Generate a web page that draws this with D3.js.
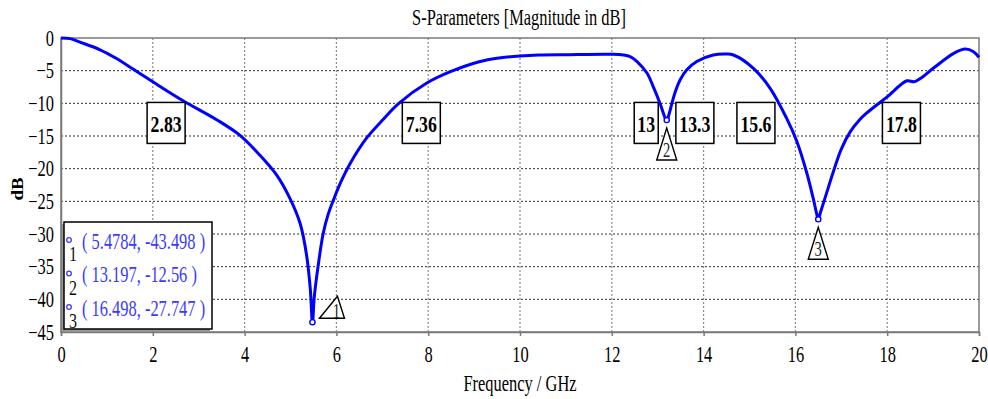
<!DOCTYPE html>
<html>
<head>
<meta charset="utf-8">
<script src="https://cdn.jsdelivr.net/npm/d3@7"></script>
<style>
html,body{margin:0;padding:0;background:#fff;}
svg{display:block;font-family:"Liberation Serif","Times New Roman",serif;}
</style>
</head>
<body>
<svg id="chart" width="988" height="399"></svg>
<script>
// ---- data ----
const freq = [0, 0.2, 0.4, 0.85, 1.2, 1.57, 2.0, 2.66, 3.39, 3.9, 4.34, 4.7, 4.99, 5.21, 5.35, 5.43, 5.4784, 5.52, 5.6, 5.71, 5.82, 5.93, 6.1, 6.3, 6.66, 7.0, 7.36, 7.97, 8.47, 9.13, 9.5, 10, 10.4, 11, 12.0, 12.25, 12.4, 12.55, 12.77, 12.9, 13.05, 13.16, 13.197, 13.25, 13.31, 13.38, 13.49, 13.63, 13.85, 14.21, 14.5, 14.65, 15.08, 15.45, 15.81, 16.03, 16.25, 16.39, 16.46, 16.498, 16.55, 16.65, 16.83, 17.0, 17.2, 17.4, 17.55, 17.8, 18.0, 18.43, 18.58, 18.72, 19.01, 19.45, 19.7, 19.88, 20];
const dB   = [0, -0.1, -0.6, -1.8, -3.1, -4.75, -6.7, -9.6, -12.5, -14.9, -18.0, -21.0, -24.6, -28.4, -33.2, -38.3, -43.498, -39.5, -35.0, -30.0, -27.0, -24.9, -22.0, -19.2, -15.3, -12.6, -10.0, -6.9, -5.2, -3.6, -3.1, -2.75, -2.6, -2.55, -2.5, -2.6, -2.85, -3.6, -5.4, -7.4, -10.0, -12.2, -12.56, -11.6, -10.0, -8.3, -6.4, -4.9, -3.6, -2.6, -2.45, -2.6, -4.6, -7.7, -12.3, -15.8, -20.7, -24.6, -26.8, -27.747, -26.6, -24.4, -20.4, -17.0, -14.3, -12.5, -11.5, -10.1, -9.0, -6.55, -6.7, -6.2, -4.6, -2.35, -1.7, -2.1, -2.95];

const xTicks = [0, 2, 4, 6, 8, 10, 12, 14, 16, 18, 20];
const yTicks = [0, -5, -10, -15, -20, -25, -30, -35, -40, -45];

// -10 dB crossing labels: text, frequency and dB of box centre
const bandLabels = ["2.83", "7.36", "13", "13.3", "15.6", "17.8"];
const bandLabelF = [2.29, 7.85, 12.75, 13.81, 15.14, 18.31];
const bandLabelDB = [-13.0, -13.0, -13.0, -13.0, -13.0, -13.0];

// markers
const markerIds = ["1", "2", "3"];
const markerF = [5.4784, 13.197, 16.498];
const markerDB = [-43.498, -12.56, -27.747];
const markerText = ["( 5.4784, -43.498 )", "( 13.197, -12.56 )", "( 16.498, -27.747 )"];

const titleText = "S-Parameters [Magnitude in dB]";
const xTitle = "Frequency / GHz";
const yTitle = "dB";

// ---- drawing ----
const SX = 0.73; // horizontal squeeze of the reference fonts
const svg = d3.select("#chart");
const x = d3.scaleLinear().domain([0, 20]).range([61, 979]);
const y = d3.scaleLinear().domain([0, -45]).range([38, 332]);

function stext(g, tx, ty, str, opts) {
  opts = opts || {};
  return g.append("text")
    .attr("transform", `translate(${tx},${ty}) scale(${opts.sx || SX},1)`)
    .attr("text-anchor", opts.anchor || "middle")
    .attr("dominant-baseline", "central")
    .attr("font-size", opts.size || 22.5)
    .attr("font-weight", opts.weight || "normal")
    .attr("fill", opts.fill || "#000")
    .text(str);
}

// grid
const grid = svg.append("g");
grid.selectAll("line.v").data(xTicks.slice(1, -1)).join("line")
  .attr("x1", d => x(d)).attr("x2", d => x(d))
  .attr("y1", y(0)).attr("y2", y(-45))
  .attr("stroke", "#8a8a8a").attr("stroke-width", 1.2).attr("stroke-dasharray", "2,2");
grid.selectAll("line.h").data(yTicks.slice(1, -1)).join("line")
  .attr("x1", x(0)).attr("x2", x(20))
  .attr("y1", d => y(d)).attr("y2", d => y(d))
  .attr("stroke", "#333").attr("stroke-width", 1).attr("stroke-dasharray", "2,2");

// frame
svg.append("rect").attr("x", x(0)).attr("y", y(0))
  .attr("width", x(20) - x(0)).attr("height", y(-45) - y(0))
  .attr("fill", "none").attr("stroke", "#7a7a7a").attr("stroke-width", 1.5);

// axes
const gx = svg.append("g").attr("transform", `translate(0,${y(-45)})`)
  .call(d3.axisBottom(x).tickValues(xTicks).tickSize(4).tickPadding(10).tickFormat(d3.format("d")));
gx.select(".domain").attr("stroke", "#7a7a7a").attr("stroke-width", 1.5);
gx.selectAll(".tick line").attr("stroke", "#7a7a7a").attr("stroke-width", 1.5);
gx.selectAll("text").attr("font-size", 22.5).attr("font-family", "Liberation Serif")
  .attr("transform", `scale(${SX},1)`).attr("fill", "#000");

const gy = svg.append("g").attr("transform", `translate(${x(0)},0)`)
  .call(d3.axisLeft(y).tickValues(yTicks).tickSize(0).tickPadding(7).tickFormat(d3.format("d")));
gy.select(".domain").attr("stroke", "#7a7a7a").attr("stroke-width", 1.5);
gy.selectAll("text").attr("font-size", 22.5).attr("font-family", "Liberation Serif").attr("fill", "#000")
  .each(function(){ const t = d3.select(this); const tx = +t.attr("x"); t.attr("x", 0).attr("transform", `translate(${tx},0) scale(${SX},1)`); });

// titles
stext(svg, 519, 17, titleText, {size: 22.5});
stext(svg, 520, 383, xTitle, {size: 22.5});
svg.append("text").attr("transform", `translate(18,189) rotate(-90) scale(1,${SX+0.1})`)
  .attr("text-anchor", "middle").attr("dominant-baseline", "central")
  .attr("font-size", 19).attr("font-weight", "bold").text(yTitle);

// curve
const pts = freq.map((f, i) => [f, dB[i]]);
svg.append("path").datum(pts)
  .attr("fill", "none").attr("stroke", "#0000ff").attr("stroke-width", 3)
  .attr("stroke-linejoin", "round")
  .attr("d", d3.line().x(d => x(d[0])).y(d => y(d[1])).curve(d3.curveCatmullRom.alpha(0.5)));

// band labels
const bl = svg.append("g");
bandLabels.forEach((t, i) => {
  const cx = x(bandLabelF[i]), cy = y(bandLabelDB[i]);
  const w = t.length <= 2 ? 24 : 38, h = 41;
  bl.append("rect").attr("x", cx - w / 2).attr("y", cy - h / 2).attr("width", w).attr("height", h)
    .attr("fill", "#fff").attr("stroke", "#000").attr("stroke-width", 1.5);
  stext(bl, cx, cy + 1, t, {size: 24, weight: "bold", sx: 0.74});
});

// markers
const mk = svg.append("g");
markerIds.forEach((id, i) => {
  const px = x(markerF[i]), py = y(markerDB[i]);
  let tri, tp;
  if (i === 0) {
    tri = [[px + 7, py - 4], [px + 25, py - 26], [px + 32, py - 4]];
    tp = [px + 24, py - 11];
  } else {
    tri = [[px, py + 8], [px - 10, py + 40], [px + 10, py + 40]];
    tp = [px, py + 30];
  }
  mk.append("path").attr("d", d3.line()(tri) + "Z")
    .attr("fill", "#fff").attr("stroke", "#000").attr("stroke-width", 1.4);
  stext(mk, tp[0], tp[1], id, {size: 20, fill: "#222"});
  mk.append("circle").attr("cx", px).attr("cy", py).attr("r", 2.6)
    .attr("fill", "#fff").attr("stroke", "#0000ff").attr("stroke-width", 1.4);
});

// legend
const lg = svg.append("g");
lg.append("rect").attr("x", 62).attr("y", 224).attr("width", 148).attr("height", 107).attr("fill", "#999");
lg.append("rect").attr("x", 64).attr("y", 222).attr("width", 148).attr("height", 107)
  .attr("fill", "#fff").attr("stroke", "#000").attr("stroke-width", 1.5);
markerIds.forEach((id, i) => {
  const ry = 240 + i * 33.5;
  lg.append("circle").attr("cx", 69).attr("cy", ry).attr("r", 2.3)
    .attr("fill", "#fff").attr("stroke", "#3a3aff").attr("stroke-width", 1.3);
  stext(lg, 73, ry + 14, id, {size: 22, fill: "#111"});
  stext(lg, 82, ry + 1, markerText[i], {size: 22.5, anchor: "start", fill: "#3a3aff"});
});
</script>
</body>
</html>
